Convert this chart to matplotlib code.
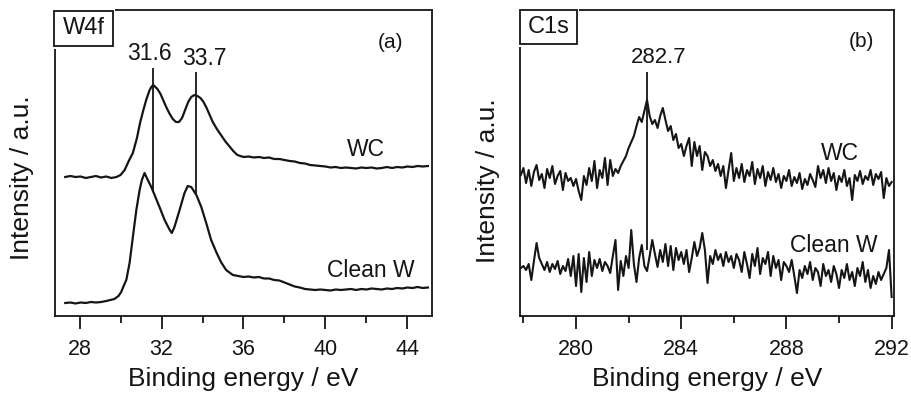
import numpy as np
import matplotlib
matplotlib.use("Agg")
import matplotlib.pyplot as plt
from matplotlib.ticker import MultipleLocator
from matplotlib.patches import Rectangle

plt.rcParams['font.family'] = ['Liberation Sans', 'DejaVu Sans']

# ---------------- Panel (a): W4f ----------------
w4f_wc_energy = [27.3, 27.55, 27.8, 28.05, 28.3, 28.55, 28.8, 29.05, 29.3, 29.55, 29.8, 30.0,
                 30.2, 30.4, 30.6, 30.8, 30.95, 31.1, 31.25, 31.4, 31.5, 31.6, 31.7, 31.8, 31.95,
                 32.1, 32.25, 32.4, 32.55, 32.7, 32.85, 33.0, 33.15, 33.3, 33.45, 33.6, 33.75, 33.9,
                 34.05, 34.2, 34.35, 34.5, 34.7, 34.9, 35.1, 35.3, 35.5, 35.7, 35.85,
                 36.0, 36.25, 36.5, 36.75, 37.0, 37.25, 37.5, 37.75, 38.0, 38.25, 38.5, 38.75,
                 39.0, 39.25, 39.5, 39.75, 40.0, 40.25, 40.5, 40.75, 41.0, 41.25, 41.5, 41.75,
                 42.0, 42.25, 42.5, 42.75, 43.0, 43.25, 43.5, 43.75, 44.0, 44.25, 44.5, 44.75, 45.0]
w4f_wc_int = [139, 140, 139, 139.5, 138, 139, 140, 138.5, 139.5, 138, 139, 141,
              146, 155, 163, 178, 193, 205, 216, 225, 229, 231, 229, 227, 222,
              215, 208, 202, 197, 194, 194, 198, 206, 214, 219, 221, 220, 218,
              214, 208, 201, 194, 187, 181, 175, 170, 165, 161, 160,
              159, 159.5, 158.5, 159, 158, 158.5, 157, 157, 156, 155, 154.5, 153,
              152.5, 151, 150.5, 150, 149.5, 148.5, 149, 148, 148.5, 148, 147.5, 148.5,
              148, 148.5, 147.5, 148, 149, 148, 149, 148.5, 149.5, 149, 150, 149.5, 150]

w4f_clean_energy = [27.3, 27.55, 27.8, 28.05, 28.3, 28.55, 28.8, 29.05, 29.3, 29.5, 29.7, 29.9,
                    30.03, 30.15, 30.28, 30.44, 30.6, 30.77, 30.93, 31.04, 31.17, 31.33, 31.5,
                    31.66, 31.9, 32.15, 32.4, 32.5, 32.63, 32.88, 33.12, 33.28, 33.45, 33.7, 33.94,
                    34.18, 34.42, 34.67, 34.9, 35.15, 35.48, 35.75,
                    36.0, 36.25, 36.5, 36.75, 37.0, 37.25, 37.5, 37.75, 38.0, 38.25, 38.5, 38.75,
                    39.0, 39.25, 39.5, 39.75, 40.0, 40.25, 40.5, 40.75, 41.0, 41.25, 41.5, 41.75,
                    42.0, 42.25, 42.5, 42.75, 43.0, 43.25, 43.5, 43.75, 44.0, 44.25, 44.5, 44.75, 45.0]
w4f_clean_int = [13, 13.5, 12.5, 13.5, 13, 14, 13.5, 14, 15, 16, 17, 20,
                 24, 30, 36, 53, 79, 106, 126, 136, 143, 136, 129,
                 121, 109, 96, 86, 83, 89, 106, 123, 130, 129, 121, 109,
                 93, 76, 64, 54, 46, 41, 40,
                 39, 39.5, 38.5, 39, 37.5, 37.5, 36, 35.5, 33.5, 31.5, 29.5, 28.5,
                 27, 26.5, 26, 26.5, 26, 25.5, 26.5, 26, 26.5, 27, 26, 27,
                 26.5, 27.5, 27, 26.5, 27.5, 27, 28, 27.5, 28.5, 28, 29, 28, 28.5]

w4f_peaks = [31.6, 33.7]
w4f_peak_labels = ["31.6", "33.7"]

# ---------------- Panel (b): C1s ----------------
c1s_energy = [round(277.9 + 0.1 * i, 1) for i in range(142)]
c1s_wc_int = [141, 148, 133, 146, 130, 144, 151, 136, 142, 128,
              147, 138, 150, 132, 140, 145, 126, 143, 135, 138,
              130, 137, 125, 116, 140, 131, 148, 135, 155, 128,
              146, 138, 158, 131, 156, 140, 147, 143, 150, 155,
              160, 168, 174, 180, 190, 199, 194, 205, 216, 200,
              192, 196, 188, 200, 208, 196, 185, 190, 176, 182,
              168, 172, 160, 170, 178, 150, 174, 160, 170, 146,
              164, 160, 150, 156, 145, 152, 140, 150, 128, 146,
              163, 135, 148, 138, 152, 134, 146, 140, 154, 132,
              147, 138, 150, 130, 144, 136, 148, 134, 142, 128,
              140, 135, 146, 130, 139, 133, 143, 127, 137, 131,
              142, 136, 129, 150, 138, 146, 133, 148, 135, 143,
              126, 140, 134, 146, 130, 138, 116, 141, 135, 145,
              132, 140, 136, 146, 131, 142, 137, 144, 118, 138,
              130, 134]
c1s_clean_int = [48, 50, 46, 52, 36, 55, 73, 58, 52, 46,
                 54, 44, 52, 47, 55, 42, 50, 45, 57, 40,
                 60, 30, 62, 24, 58, 34, 64, 40, 56, 48,
                 57, 45, 54, 50, 43, 60, 76, 26, 55, 40,
                 60, 48, 86, 52, 34, 58, 71, 50, 45, 60,
                 76, 62, 49, 66, 54, 72, 50, 70, 46, 68,
                 56, 64, 52, 66, 44, 58, 74, 60, 68, 83,
                 66, 33, 60, 52, 66, 56, 62, 50, 64, 54,
                 60, 48, 62, 56, 44, 64, 52, 38, 62, 50,
                 68, 42, 58, 52, 64, 40, 60, 48, 56, 36,
                 54, 50, 44, 56, 40, 23, 46, 38, 50, 42,
                 54, 36, 48, 44, 30, 52, 40, 46, 34, 50,
                 42, 28, 46, 38, 52, 36, 44, 30, 48, 40,
                 54, 34, 46, 28, 40, 32, 44, 36, 42, 48,
                 66, 19]
c1s_peaks = [282.7]
c1s_peak_labels = ["282.7"]

INK = '#151515'
W, H = 912, 403
fig = plt.figure(figsize=(W / 100, H / 100), dpi=100)

def px_axes(x0, x1, y0, y1):
    return fig.add_axes([x0 / W, 1 - y1 / H, (x1 - x0) / W, (y1 - y0) / H])

axA = px_axes(55, 432, 10, 316)
axB = px_axes(520, 894, 10, 316)

for ax in (axA, axB):
    for s in ax.spines.values():
        s.set_linewidth(1.3)
        s.set_color(INK)
    ax.tick_params(axis='y', left=False, labelleft=False)
    ax.tick_params(axis='x', which='major', direction='out', length=9.5, width=1.3,
                   labelsize=15.5, pad=7, colors=INK)
    ax.tick_params(axis='x', which='minor', direction='out', length=5, width=1.3, colors=INK)
    ax.xaxis.set_major_locator(MultipleLocator(4))
    ax.xaxis.set_minor_locator(MultipleLocator(2))
    ax.set_ylim(0, 306)

# Panel (a)
axA.plot(w4f_wc_energy, w4f_wc_int, color=INK, lw=1.6)
axA.plot(w4f_clean_energy, w4f_clean_int, color=INK, lw=1.6)
axA.set_xlim(26.8, 45.2)
tops_a = [248, 244]
for e, top in zip(w4f_peaks, tops_a):
    bottom = float(np.interp(e, w4f_clean_energy, w4f_clean_int))
    axA.vlines(e, bottom, top, color=INK, lw=1.3)
axA.text(31.39, 256, w4f_peak_labels[0], ha='center', va='baseline', fontsize=16.5, color=INK)
axA.text(34.1, 251, w4f_peak_labels[1], ha='center', va='baseline', fontsize=16.5, color=INK)
axA.text(0.891, 0.895, "(a)", transform=axA.transAxes, ha='center', va='center', fontsize=15, color=INK)
axA.text(0.826, 0.544, "WC", transform=axA.transAxes, ha='center', va='center', fontsize=16.5, color=INK)
axA.text(0.837, 0.149, "Clean W", transform=axA.transAxes, ha='center', va='center', fontsize=16.5, color=INK)
axA.set_xlabel("Binding energy / eV", fontsize=19, color=INK, labelpad=5)
axA.text(-0.0875, 0.4526, "Intensity / a.u.", transform=axA.transAxes, rotation=90,
         ha='center', va='center', fontsize=19, color=INK)

# Panel (b)
axB.plot(c1s_energy, c1s_wc_int, color=INK, lw=1.5)
axB.plot(c1s_energy, c1s_clean_int, color=INK, lw=1.5)
axB.set_xlim(277.87, 292.09)
axB.vlines(c1s_peaks[0], 66, 244, color=INK, lw=1.3)
axB.text(283.14, 253, c1s_peak_labels[0], ha='center', va='baseline', fontsize=16, color=INK)
axB.text(0.913, 0.897, "(b)", transform=axB.transAxes, ha='center', va='center', fontsize=15, color=INK)
axB.text(0.856, 0.531, "WC", transform=axB.transAxes, ha='center', va='center', fontsize=16.5, color=INK)
axB.text(0.838, 0.230, "Clean W", transform=axB.transAxes, ha='center', va='center', fontsize=16.5, color=INK)
axB.set_xlabel("Binding energy / eV", fontsize=19, color=INK, labelpad=5)
axB.text(-0.0856, 0.441, "Intensity / a.u.", transform=axB.transAxes, rotation=90,
         ha='center', va='center', fontsize=19, color=INK)

# Label boxes at the top-left corners
def corner_box(x0, x1, y0, y1, label):
    cover = Rectangle((x0 / W - 2 / W, 1 - (y1 + 3) / H), (x1 - x0 + 4) / W, (y1 - y0 + 6) / H,
                      transform=fig.transFigure, facecolor='white', edgecolor='none', zorder=20)
    fig.patches.append(cover)
    box = Rectangle((x0 / W, 1 - y1 / H), (x1 - x0) / W, (y1 - y0) / H,
                    transform=fig.transFigure, facecolor='white', edgecolor=INK, lw=1.3, zorder=21)
    fig.patches.append(box)
    fig.text((x0 + x1) / 2 / W, 1 - (y0 + y1) / 2 / H, label, ha='center', va='center',
             fontsize=17, color=INK, zorder=22)

corner_box(54, 113, 11, 46, "W4f")
corner_box(520, 577, 10, 44, "C1s")

fig.savefig("out.png", dpi=100)
